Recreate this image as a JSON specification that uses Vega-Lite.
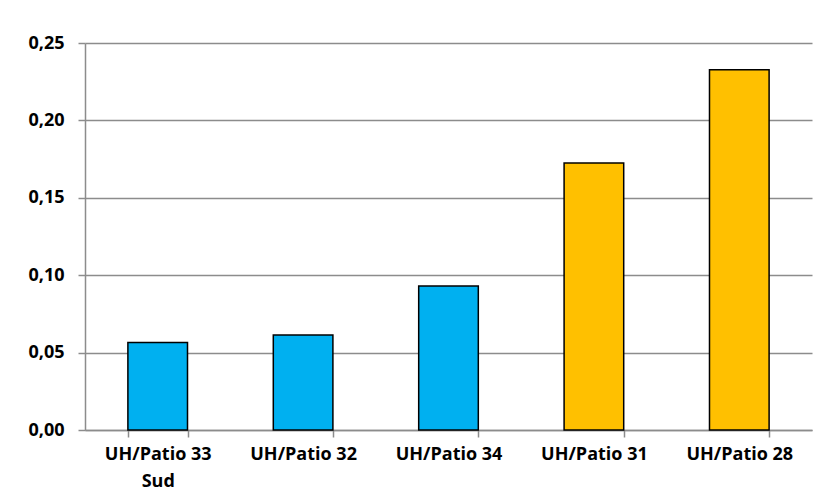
{
  "$schema": "https://vega.github.io/schema/vega-lite/v6.json",
  "width": 727,
  "height": 387,
  "autosize": "none",
  "padding": {"left": 85, "top": 43, "right": 16, "bottom": 74},
  "background": "white",
  "data": {"values": [
    {"site": "UH/Patio 33 Sud", "value": 0.0566, "group": "a"},
    {"site": "UH/Patio 32", "value": 0.0614, "group": "a"},
    {"site": "UH/Patio 34", "value": 0.0930, "group": "a"},
    {"site": "UH/Patio 31", "value": 0.1725, "group": "b"},
    {"site": "UH/Patio 28", "value": 0.2328, "group": "b"}
  ]},
  "mark": {"type": "bar", "stroke": "black", "strokeWidth": 1.5},
  "encoding": {
    "x": {"field": "site", "type": "nominal", "sort": null, "title": null,
      "scale": {"paddingInner": 0.59, "paddingOuter": 0.295},
      "axis": {"labelAngle": 0, "labelFont": "Open Sans", "labelFontWeight": "bold", "labelFontSize": 18, "labelColor": "black",
        "labelPadding": 8, "labelLineHeight": 27, "domainColor": "#8c8c8c", "domainWidth": 1.5, "tickColor": "#8c8c8c", "tickSize": 7, "tickBand": "extent", "tickWidth": 1.5,
        "labelExpr": "datum.label == 'UH/Patio 33 Sud' ? ['UH/Patio 33', 'Sud'] : datum.label"}},
    "y": {"field": "value", "type": "quantitative", "title": null,
      "scale": {"domain": [0, 0.25], "nice": false},
      "axis": {"values": [0, 0.05, 0.1, 0.15, 0.2, 0.25], "labelExpr": "replace(format(datum.value, '.2f'), '.', ',')",
        "labelFont": "Open Sans", "labelFontWeight": "bold", "labelFontSize": 18, "labelColor": "black", "labelPadding": 14,
        "grid": true, "gridColor": "#8c8c8c", "gridWidth": 1.5, "domainColor": "#8c8c8c", "domainWidth": 1.5,
        "tickColor": "#8c8c8c", "tickSize": 7, "tickWidth": 1.5}},
    "color": {"field": "group", "type": "nominal", "legend": null,
      "scale": {"domain": ["a", "b"], "range": ["#00B0F0", "#FFC000"]}}
  },
  "config": {"view": {"stroke": null}}
}
